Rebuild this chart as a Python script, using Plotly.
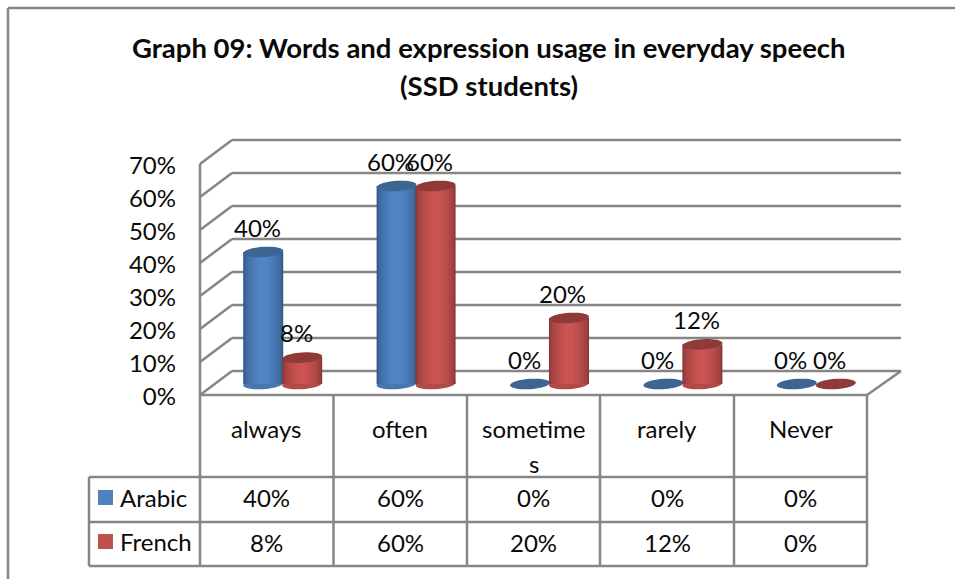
import numpy as np
import plotly.graph_objects as go

W, H = 955, 579

categories = ["always", "often", "sometime\ns", "rarely", "Never"]
arabic = [40, 60, 0, 0, 0]
french = [8, 60, 20, 12, 0]
y_ticks = [0, 10, 20, 30, 40, 50, 60, 70]
y_tick_labels = ["0%", "10%", "20%", "30%", "40%", "50%", "60%", "70%"]
title_lines = ["Graph 09: Words and expression usage in everyday speech", "(SSD students)"]

GREY = "#868686"
FONT = "Lato"
TEXT = "#0a0a0a"

series = [
    dict(name="Arabic", values=arabic, centre=(80, 133, 196), edge=(50, 88, 135),
         top="#3c6592", mid="#4677ae", key="#4f81bd", off=-0.146, row_y=498, key_y=490),
    dict(name="French", values=french, centre=(202, 84, 82), edge=(135, 55, 52),
         top="#8f3a38", mid="#b34a47", key="#c0504d", off=0.146, row_y=542, key_y=534),
]

BAR_W = 0.30
PX_UNIT = 3.3  # pixels per percent point
N_LAYERS = 14
END_RY = 5.2 / PX_UNIT
END_TILT = 1.3 / PX_UNIT


def fx(px):
    return px / W


def fy(py):
    return 1 - py / H


def ellipse_path(cx, cy, rx, ry, tilt):
    # slightly sheared ellipse, the cylinder ends lean in the original
    t = np.linspace(0, 2 * np.pi, 41)[:-1]
    xs = cx + rx * np.cos(t)
    ys = cy + ry * np.sin(t) + tilt * np.cos(t)
    return "M" + "L".join(f"{a:.4f},{b:.4f}" for a, b in zip(xs, ys)) + "Z"


def line(x0, y0, x1, y1, layer="below"):
    return dict(type="line", xref="paper", yref="paper", x0=fx(x0), y0=fy(y0), x1=fx(x1), y1=fy(y1),
                line=dict(color=GREY, width=2.5), layer=layer)


def label(px, py, text, size=24, xanchor="center"):
    return dict(x=fx(px), y=fy(py), xref="paper", yref="paper", text=text, showarrow=False,
                xanchor=xanchor, yanchor="middle", font=dict(family=FONT, size=size, color=TEXT))


fig = go.Figure()
shapes = []
annotations = []
x_pos = list(range(len(categories)))

# outer frame of the chart
shapes.append(line(8, 8, 955, 8))
shapes.append(line(8, 8, 8, 579))

# 3D walls and floor
for v in y_ticks:
    yf = 395 - PX_UNIT * v
    yb = 371 - PX_UNIT * v
    shapes.append(line(200, yf, 232, yb))
    shapes.append(line(232, yb, 901, yb))
shapes.append(line(200, 395, 200, 164))
shapes.append(line(901, 371, 867, 395))

# bars, nested so the colour runs dark to light across the cylinder
for s in series:
    for k in range(N_LAYERS):
        t = k / (N_LAYERS - 1)
        w = BAR_W * (1 - 0.8 * t)
        mix = t ** 0.5
        col = [round(e + (c - e) * mix) for e, c in zip(s["edge"], s["centre"])]
        fig.add_trace(go.Bar(
            x=x_pos, y=s["values"], width=w, offset=s["off"] - w / 2,
            marker=dict(color=f"rgb({col[0]},{col[1]},{col[2]})", line_width=0),
            name=s["name"], showlegend=False, hoverinfo="skip",
        ))
    for i, v in enumerate(s["values"]):
        cx = i + s["off"]
        shapes.append(dict(type="path", xref="x", yref="y", layer="below",
                           path=ellipse_path(cx, 0, BAR_W / 2, END_RY, END_TILT),
                           fillcolor=s["top"] if v == 0 else s["mid"], line_width=0))
        if v > 0:
            shapes.append(dict(type="path", xref="x", yref="y",
                               path=ellipse_path(cx, v, BAR_W / 2, END_RY, END_TILT),
                               fillcolor=s["top"], line_width=0))
        annotations.append(dict(x=cx, y=v, xref="x", yref="y", text=f"{v}%", showarrow=False,
                                xanchor="center", yanchor="middle", xshift=-6, yshift=25,
                                font=dict(family=FONT, size=24, color=TEXT)))

# trace for the axis that carries the percent labels
fig.add_trace(go.Scatter(x=x_pos, y=arabic, yaxis="y2", mode="markers", marker_opacity=0,
                         showlegend=False, hoverinfo="skip"))

# data table under the plot
col_edges = [200, 333.5, 467, 600, 734, 867]
for x in col_edges:
    shapes.append(line(x, 395, x, 566))
shapes.append(line(200, 395, 867, 395))
for y in [477, 522, 566]:
    shapes.append(line(89, y, 867, y))
shapes.append(line(89, 477, 89, 566))

for i, cat in enumerate(categories):
    xc = (col_edges[i] + col_edges[i + 1]) / 2
    for j, part in enumerate(cat.split("\n")):
        annotations.append(label(xc, 428 + 35 * j, part))
    for s in series:
        annotations.append(label(xc, s["row_y"], f'{s["values"][i]}%'))

for s in series:
    shapes.append(dict(type="rect", xref="paper", yref="paper", x0=fx(98), x1=fx(113),
                       y0=fy(s["key_y"]), y1=fy(s["key_y"] + 15), fillcolor=s["key"], line_width=0))
    annotations.append(label(118, s["row_y"] - 1, s["name"], xanchor="left"))

for j, part in enumerate(title_lines):
    annotations.append(label(489, 48 + 37 * j, f"<b>{part}</b>", size=27.5))

fig.update_layout(
    width=W, height=H, margin=dict(l=0, r=0, t=0, b=0, pad=0, autoexpand=False),
    paper_bgcolor="white", plot_bgcolor="rgba(0,0,0,0)",
    barmode="overlay", showlegend=False, shapes=shapes, annotations=annotations,
    xaxis=dict(domain=[fx(216), fx(883)], range=[-0.5, 4.5], visible=False),
    yaxis=dict(domain=[fy(395), fy(140)], range=[(384 - 395) / PX_UNIT, (384 - 140) / PX_UNIT], visible=False),
    yaxis2=dict(domain=[fy(397), fy(166)], range=[0, 70], anchor="free", position=fx(176), side="left",
                tickmode="array", tickvals=y_ticks, ticktext=y_tick_labels, showgrid=False, zeroline=False,
                showline=False, ticks="", tickfont=dict(family=FONT, size=24, color=TEXT)),
)

fig.write_html("out.html", config=dict(displayModeBar=False),
               post_script="document.body.style.margin='0';document.body.style.overflow='hidden';")
